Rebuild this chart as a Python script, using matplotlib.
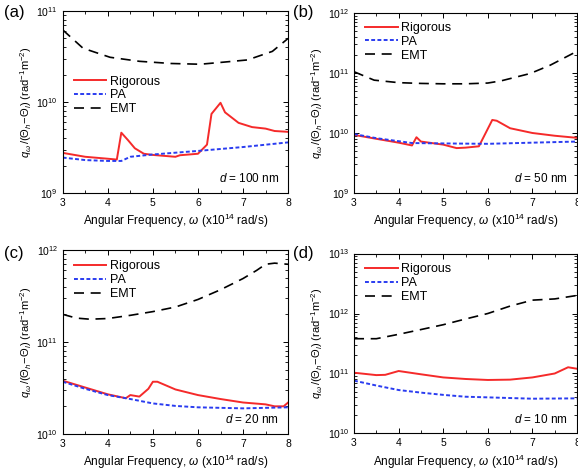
import numpy as np
import matplotlib
matplotlib.use("Agg")
import matplotlib.pyplot as plt
from matplotlib.ticker import LogLocator, MultipleLocator, NullFormatter

plt.rcParams["font.family"] = ["Liberation Sans", "DejaVu Sans"]
plt.rcParams["mathtext.fontset"] = "custom"
plt.rcParams["mathtext.rm"] = "Liberation Sans"
plt.rcParams["mathtext.it"] = "Liberation Sans:italic"

# ---- panel (a): d = 100 nm ----
a_rig_w = [3.0, 3.5, 4.0, 4.2, 4.3, 4.45, 4.6, 4.8, 5.0, 5.5, 5.6, 6.0, 6.2, 6.3, 6.5, 6.6, 6.9, 7.2, 7.5, 7.7, 8.0]
a_rig = [2.76e9, 2.5e9, 2.38e9, 2.33e9, 4.6e9, 3.8e9, 3.1e9, 2.7e9, 2.62e9, 2.5e9, 2.6e9, 2.7e9, 3.4e9, 7.4e9, 9.8e9, 7.7e9, 5.9e9, 5.3e9, 5.1e9, 4.8e9, 4.7e9]
a_pa_w = [3.0, 3.5, 4.0, 4.3, 4.5, 5.0, 6.0, 7.0, 8.0]
a_pa = [2.45e9, 2.3e9, 2.25e9, 2.25e9, 2.5e9, 2.65e9, 2.9e9, 3.2e9, 3.6e9]
a_emt_w = [3.0, 3.45, 4.05, 4.7, 5.4, 6.05, 6.6, 7.1, 7.65, 8.0]
a_emt = [6.2e10, 3.9e10, 3.1e10, 2.8e10, 2.65e10, 2.6e10, 2.75e10, 2.9e10, 3.6e10, 5.0e10]

# ---- panel (b): d = 50 nm ----
b_rig_w = [3.0, 3.5, 4.0, 4.3, 4.4, 4.5, 5.0, 5.3, 5.5, 5.8, 6.1, 6.2, 6.5, 7.0, 7.5, 8.0]
b_rig = [9.3e9, 8.0e9, 6.9e9, 6.2e9, 8.5e9, 7.2e9, 6.4e9, 5.6e9, 5.7e9, 6.0e9, 1.65e10, 1.6e10, 1.2e10, 1.0e10, 9.0e9, 8.3e9]
b_pa_w = [3.0, 3.5, 4.0, 4.3, 5.0, 6.0, 7.0, 8.0]
b_pa = [9.6e9, 8.2e9, 7.3e9, 6.8e9, 6.7e9, 6.6e9, 6.9e9, 7.2e9]
b_emt_w = [3.0, 3.45, 4.0, 4.5, 5.0, 5.5, 6.0, 6.3, 6.95, 7.4, 8.0]
b_emt = [1.05e11, 7.6e10, 6.9e10, 6.7e10, 6.6e10, 6.6e10, 6.8e10, 7.4e10, 9.8e10, 1.35e11, 2.3e11]

# ---- panel (c): d = 20 nm ----
c_rig_w = [3.0, 3.5, 4.0, 4.4, 4.5, 4.7, 4.9, 5.0, 5.1, 5.5, 6.0, 6.5, 7.0, 7.5, 7.7, 7.9, 8.0]
c_rig = [3.8e10, 3.2e10, 2.7e10, 2.45e10, 2.65e10, 2.55e10, 3.1e10, 3.7e10, 3.7e10, 3.05e10, 2.65e10, 2.4e10, 2.2e10, 2.1e10, 2.0e10, 2.0e10, 2.2e10]
c_pa_w = [3.0, 3.5, 4.0, 4.5, 5.0, 5.5, 6.0, 7.0, 8.0]
c_pa = [3.7e10, 3.1e10, 2.65e10, 2.4e10, 2.15e10, 2.02e10, 1.95e10, 1.9e10, 1.95e10]
c_emt_w = [3.0, 3.3, 3.6, 4.0, 4.5, 5.0, 5.5, 6.0, 6.5, 7.0, 7.3, 7.5, 7.7, 8.0]
c_emt = [2.0e11, 1.82e11, 1.77e11, 1.8e11, 1.95e11, 2.14e11, 2.4e11, 2.9e11, 3.7e11, 4.9e11, 6.0e11, 7.0e11, 7.2e11, 7.0e11]

# ---- panel (d): d = 10 nm ----
d_rig_w = [3.0, 3.5, 3.7, 4.0, 4.5, 5.0, 5.5, 6.0, 6.5, 7.0, 7.5, 7.8, 8.0]
d_rig = [1.03e11, 9.4e10, 9.5e10, 1.1e11, 9.7e10, 8.6e10, 8.1e10, 7.8e10, 7.9e10, 8.6e10, 1.0e11, 1.27e11, 1.2e11]
d_pa_w = [3.0, 3.5, 4.0, 4.5, 5.0, 5.5, 6.0, 7.0, 8.0]
d_pa = [7.6e10, 6.3e10, 5.3e10, 4.8e10, 4.4e10, 4.1e10, 4.0e10, 3.8e10, 3.85e10]
d_emt_w = [3.0, 3.5, 4.0, 4.5, 5.0, 5.5, 6.0, 6.5, 7.0, 7.5, 8.0]
d_emt = [3.8e11, 3.8e11, 4.5e11, 5.4e11, 6.5e11, 8.1e11, 1.0e12, 1.33e12, 1.67e12, 1.75e12, 2.0e12]

panels = [
    ("(a)", "100", (1e9, 1e11), a_rig_w, a_rig, a_pa_w, a_pa, a_emt_w, a_emt),
    ("(b)", "50", (1e9, 1e12), b_rig_w, b_rig, b_pa_w, b_pa, b_emt_w, b_emt),
    ("(c)", "20", (1e10, 1e12), c_rig_w, c_rig, c_pa_w, c_pa, c_emt_w, c_emt),
    ("(d)", "10", (1e10, 1e13), d_rig_w, d_rig, d_pa_w, d_pa, d_emt_w, d_emt),
]
# axes rectangles in figure fraction (left, bottom, width, height)
rects = [
    [0.1085, 0.5911, 0.390, 0.3856],
    [0.6125, 0.5911, 0.3858, 0.3814],
    [0.1085, 0.0805, 0.390, 0.3898],
    [0.6125, 0.0816, 0.3858, 0.3813],
]
legend_anchor = [(0.05, 0.645), (0.05, 0.95), (0.05, 0.945), (0.05, 0.945)]
label_pos = [(0.024, 0.973), (0.524, 0.973), (0.024, 0.463), (0.524, 0.463)]

fig = plt.figure(figsize=(5.78, 4.72), dpi=100)
for i, (tag, d, ylim, rw, r, pw, p, ew, e) in enumerate(panels):
    ax = fig.add_axes(rects[i])
    ax.plot(rw, r, color="#f52a2a", lw=1.4, label="Rigorous")
    ax.plot(pw, p, color="#2a3cf0", lw=1.4, ls=(0, (2, 1.2)), label="PA")
    ax.plot(ew, e, color="black", lw=1.2, ls=(0, (6, 4)), label="EMT")
    ax.set_yscale("log")
    ax.set_xlim(3, 8)
    ax.set_ylim(*ylim)
    ax.xaxis.set_major_locator(MultipleLocator(1))
    ax.xaxis.set_minor_locator(MultipleLocator(0.5))
    ax.yaxis.set_minor_locator(LogLocator(base=10, subs=np.arange(2, 10)))
    ax.yaxis.set_minor_formatter(NullFormatter())
    ax.tick_params(which="both", direction="in", top=True, right=True, labelsize=7.5)
    ax.tick_params(which="major", length=3.5, width=0.7)
    ax.tick_params(which="minor", length=2, width=0.6)
    for s in ax.spines.values():
        s.set_linewidth(0.8)
    ax.set_xlabel(r"Angular Frequency, $\omega$ (x10$^{14}$ rad/s)", fontsize=8.5, labelpad=3)
    ax.set_ylabel(r"$q_\omega\,/(\Theta_h\!-\!\Theta_l)$ (rad$^{-1}$m$^{-2}$)", fontsize=8, labelpad=2)
    ax.legend(loc="upper left", bbox_to_anchor=legend_anchor[i], frameon=False,
              fontsize=9, handlelength=2.6, handletextpad=0.25, labelspacing=0.15,
              borderpad=0, borderaxespad=0)
    ax.text(0.96, 0.08, r"$d$ = " + d + " nm", transform=ax.transAxes,
            ha="right", va="center", fontsize=8.5)
    fig.text(label_pos[i][0], label_pos[i][1], tag, fontsize=12, ha="center", va="center")

fig.savefig("out.png", dpi=100)
